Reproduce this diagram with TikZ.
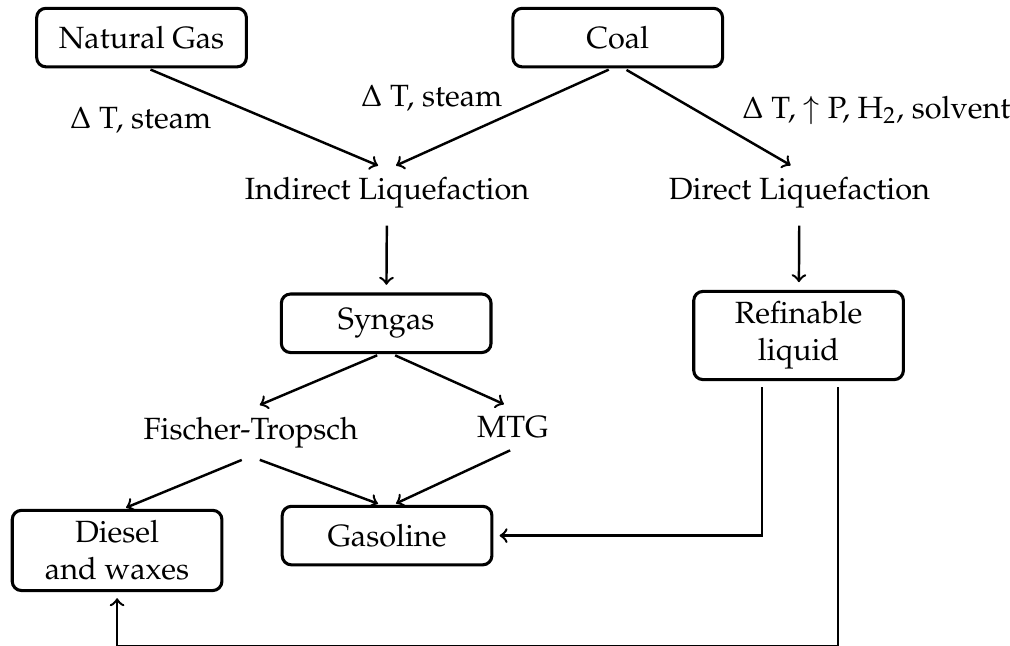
\documentclass[tikz,border=0pt]{standalone}
\usepackage[T1]{fontenc}
\usepackage{mathpazo}
\usepackage{tikz}

\begin{document}
\begin{tikzpicture}[box/.style={draw,line width=1pt,rounded corners=3pt,minimum width=2.4cm,minimum height=0.67cm,align=center},
  flow/.style={->,thick,shorten <=1pt,shorten >=1pt}]
  \useasboundingbox (0,0) rectangle (11.56,-7.39);

  \node[box] (gas) at (1.62,-0.43) {Natural Gas};
  \node[box] (coal) at (7.07,-0.43) {Coal};
  \node (indirect) at (4.43,-2.21) {Indirect Liquefaction};
  \node (direct) at (9.15,-2.21) {Direct Liquefaction};
  \node[box] (syngas) at (4.42,-3.70) {Syngas};
  \node[box] (refine) at (9.14,-3.84) {Refinable\\liquid};
  \node (ft) at (2.87,-4.95) {Fischer-Tropsch};
  \node (mtg) at (5.87,-4.89) {MTG};
  \node[box] (diesel) at (1.34,-6.30) {Diesel\\and waxes};
  \node[box] (gasoline) at (4.43,-6.13) {Gasoline};

  \node (cond1) at (1.61,-1.38) {$\Delta$ T, steam};
  \node (cond2) at (4.94,-1.12) {$\Delta$ T, steam};
  \node (cond3) at (10.03,-1.26) {$\Delta$ T, $\uparrow$ P, H$_2$, solvent};

  \draw[flow] ([xshift=2pt]gas.south) -- ([xshift=-2pt]indirect.north);
  \draw[flow] ([xshift=-2pt]coal.south) -- ([xshift=2pt]indirect.north);
  \draw[flow] ([xshift=2pt]coal.south) -- ([xshift=-2pt]direct.north);
  \draw[flow,shorten <=2pt,shorten >=2.5pt] (indirect) -- (syngas);
  \draw[flow,shorten <=2pt,shorten >=2.5pt] (direct) -- (refine);
  \draw[flow] ([xshift=-2pt]syngas.south) -- ([xshift=2pt]ft.north);
  \draw[flow] ([xshift=2pt]syngas.south) -- ([xshift=-2pt]mtg.north);
  \draw[flow] ([xshift=-2pt]ft.south) -- ([xshift=2pt]diesel.north);
  \draw[flow] ([xshift=2pt]ft.south) -- ([xshift=-2pt]gasoline.north);
  \draw[flow] (mtg.south) -- ([xshift=2pt]gasoline.north);
  \draw[flow,shorten <=2pt,shorten >=2pt] ([xshift=-0.42cm]refine.south) |- (gasoline.east);
  \draw[flow,shorten <=2pt,shorten >=2pt] ([xshift=0.45cm]refine.south) -- ++(0,-3.03) -| (diesel.south);
\end{tikzpicture}
\end{document}
